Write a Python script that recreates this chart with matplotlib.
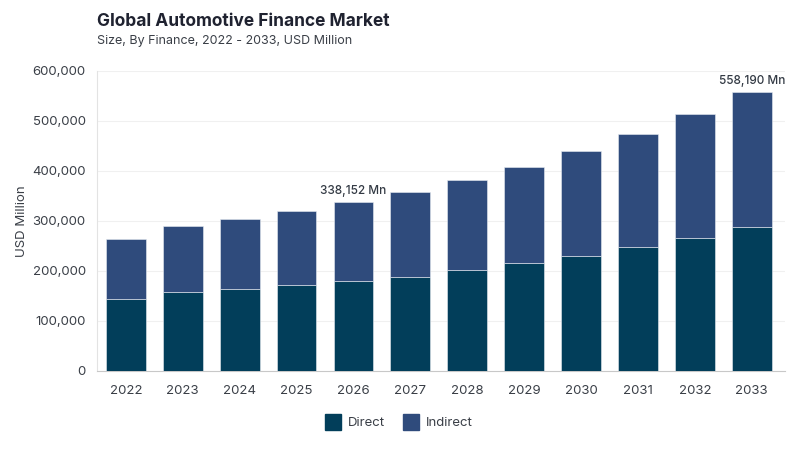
import matplotlib
matplotlib.use("Agg")
import matplotlib.pyplot as plt
from matplotlib.ticker import FuncFormatter
from matplotlib.lines import Line2D

years = ["2022", "2023", "2024", "2025", "2026", "2027", "2028", "2029", "2030", "2031", "2032", "2033"]
direct = [143000, 157000, 163000, 171000, 179000, 188000, 201000, 215000, 229000, 247000, 265000, 287000]
total = [264000, 290000, 304000, 320000, 338152, 357000, 381000, 407000, 439000, 473000, 513000, 558190]
indirect = [t - d for t, d in zip(total, direct)]
annot = {4: "338,152 Mn", 11: "558,190 Mn"}

c_direct = "#023E5A"
c_indirect = "#2F4B7C"

plt.rcParams['font.family'] = ['Inter', 'DejaVu Sans']

fig = plt.figure(figsize=(8, 4.5), dpi=100)
ax = fig.add_axes([0.121, 0.1756, 0.86, 0.6667])

x = list(range(len(years)))
ax.bar(x, direct, width=0.70, color=c_direct, edgecolor="#e8ecf2", linewidth=0.4, zorder=3)
ax.bar(x, indirect, bottom=direct, width=0.70, color=c_indirect, edgecolor="#e8ecf2", linewidth=0.4, zorder=3)

for i, txt in annot.items():
    ax.text(i, total[i] + 10000, txt, ha="center", va="bottom", fontsize=8.5, color="#333a44", fontweight="medium")

ax.set_ylim(0, 600000)
ax.set_xlim(-0.51, 11.58)
ax.set_yticks(range(0, 600001, 100000))
ax.yaxis.set_major_formatter(FuncFormatter(lambda v, p: f"{int(v):,}"))
ax.set_xticks(x)
ax.set_xticklabels(years)
ax.tick_params(axis="both", length=0, labelsize=9.5, colors="#3a3f47")
ax.tick_params(axis="x", pad=10)
ax.tick_params(axis="y", pad=8)
ax.grid(axis="y", color="#f0f0f0", linewidth=0.8, zorder=0)
for s in ["top", "right"]:
    ax.spines[s].set_visible(False)
ax.spines["left"].set_color("#e3e3e3")
ax.spines["bottom"].set_color("#c8c8c8")
ax.set_ylabel("USD Million", fontsize=9.5, color="#3a3f47", labelpad=3)

fig.text(0.121, 0.953, "Global Automotive Finance Market", fontsize=12.5, fontweight="bold", color="#1f2230", va="center")
fig.text(0.121, 0.908, "Size, By Finance, 2022 - 2033, USD Million", fontsize=9, color="#3a3f47", va="center")

handles = [Line2D([0], [0], marker="s", linestyle="", markersize=11, markerfacecolor=c_direct, markeredgecolor=c_direct),
           Line2D([0], [0], marker="s", linestyle="", markersize=11, markerfacecolor=c_indirect, markeredgecolor=c_indirect)]
fig.legend(handles, ["Direct", "Indirect"], loc="center", bbox_to_anchor=(0.495, 0.06), ncol=2, frameon=False,
           fontsize=9.5, handletextpad=0.1, columnspacing=1.0, labelcolor="#3a3f47")

fig.savefig("out.png", dpi=100)
